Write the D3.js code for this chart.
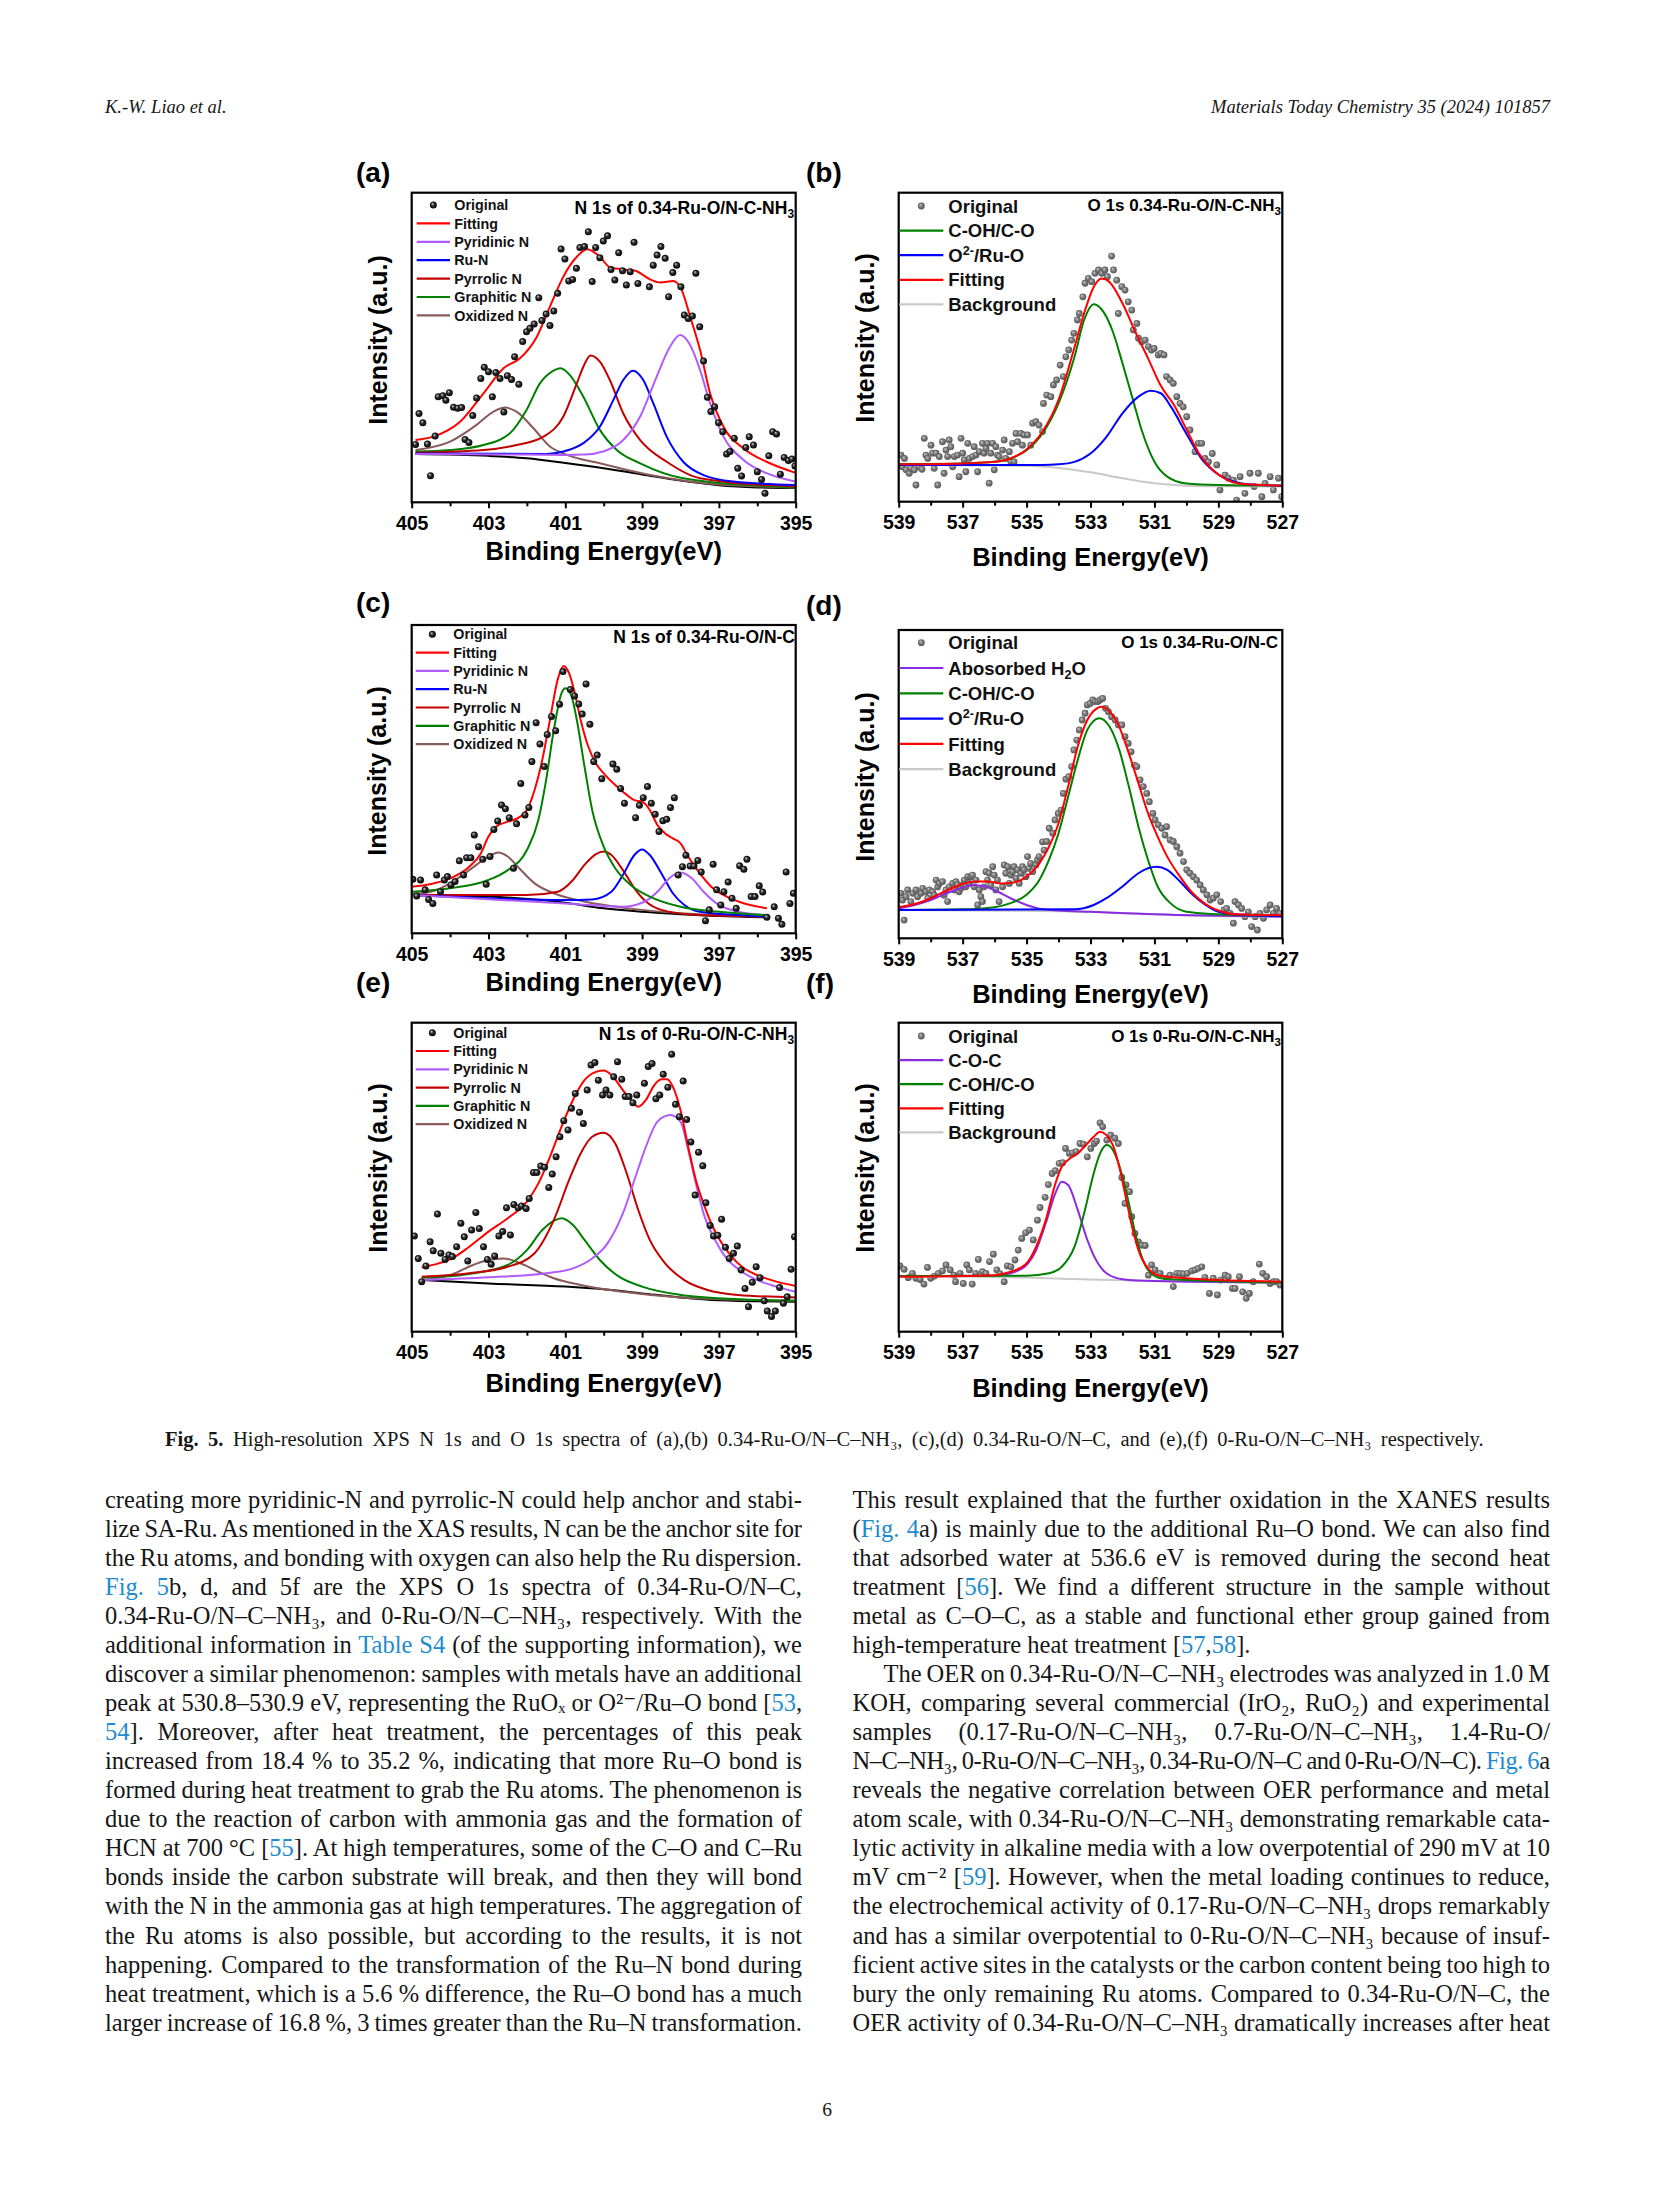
<!DOCTYPE html>
<html><head><meta charset="utf-8">
<script src="https://cdn.jsdelivr.net/npm/d3@7"></script>
<style>body{margin:0;background:#fff}svg{display:block}</style>
</head><body>
<svg id="page" width="1654" height="2205" xmlns="http://www.w3.org/2000/svg"></svg>
<script>
// ================= DATA (binding energy eV, intensity a.u. 0-100 of panel) =================
const nTicks = [405, 403, 401, 399, 397, 395];
const nMinor = [404, 402, 400, 398, 396];
const oTicks = [539, 537, 535, 533, 531, 529, 527];
const oMinor = [538, 536, 534, 532, 530, 528];

// (a) N 1s of 0.34-Ru-O/N-C-NH3
const aOriginal = [[404.90,18.7],[404.81,28.7],[404.71,25.7],[404.59,18.8],[404.51,8.6],[404.39,21.4],[404.31,34.1],[404.19,34.4],[404.11,33.0],[404.02,35.4],[403.91,30.7],[403.80,30.4],[403.70,30.6],[403.61,20.3],[403.51,19.3],[403.41,28.0],[403.31,33.7],[403.20,40.0],[403.11,43.6],[403.00,42.2],[402.90,34.1],[402.81,41.9],[402.70,40.0],[402.60,29.2],[402.51,40.9],[402.40,39.7],[402.32,47.0],[402.21,38.1],[402.11,51.9],[402.01,55.1],[401.92,56.2],[401.81,57.6],[401.69,66.1],[401.61,58.7],[401.50,60.8],[401.40,57.1],[401.30,61.8],[401.20,67.5],[401.11,81.8],[401.01,78.6],[400.91,71.5],[400.81,72.0],[400.71,75.6],[400.62,82.3],[400.50,82.6],[400.40,87.4],[400.30,71.3],[400.21,82.3],[400.10,79.0],[400.01,84.4],[399.90,86.1],[399.81,75.2],[399.71,71.8],[399.61,80.6],[399.51,74.8],[399.41,70.2],[399.31,74.5],[399.21,84.0],[399.11,70.7],[398.81,69.6],[398.71,76.6],[398.61,79.9],[398.51,82.6],[398.40,78.8],[398.31,66.4],[398.20,74.2],[398.10,76.6],[397.99,69.6],[397.90,60.5],[397.80,59.4],[397.69,60.2],[397.60,74.0],[397.50,56.7],[397.40,45.6],[397.30,33.9],[397.21,29.3],[397.11,30.9],[397.01,25.7],[396.90,22.8],[396.80,15.6],[396.71,16.4],[396.60,20.7],[396.51,11.0],[396.41,8.5],[396.30,17.7],[396.21,21.2],[396.10,18.5],[396.00,9.9],[395.89,7.4],[395.80,2.9],[395.70,15.0],[395.60,22.8],[395.50,22.1],[395.40,9.1],[395.30,14.5],[395.19,13.5],[395.10,14.0],[395.02,11.7]];
const aFitting = [[404.9,20.1],[404.44,21.2],[403.74,26.0],[403.13,35.2],[402.61,43.3],[402.18,46.5],[401.74,53.5],[401.40,63.2],[401.05,72.9],[400.70,79.3],[400.43,81.7],[400.10,79.3],[399.84,75.9],[399.49,75.2],[399.18,74.8],[398.79,72.0],[398.53,71.0],[398.19,71.5],[397.97,68.6],[397.75,60.0],[397.49,49.2],[397.23,35.2],[396.88,24.4],[396.36,17.4],[395.76,13.1],[395.02,9.6]];
const aPyridinic = [[404.9,15.6],[402.0,15.4],[401.0,15.3],[400.5,15.4],[400.01,16.4],[399.49,20.1],[399.05,27.7],[398.62,40.6],[398.27,50.3],[398.01,54.0],[397.75,50.8],[397.49,42.7],[397.23,32.0],[396.88,21.2],[396.36,13.7],[395.76,9.4],[395.02,6.7]];
const aRuN = [[404.9,15.8],[401.5,15.6],[401.05,16.4],[400.53,19.1],[400.10,24.4],[399.75,33.0],[399.49,39.5],[399.24,42.5],[398.97,39.5],[398.71,32.0],[398.36,21.2],[397.93,13.1],[397.40,8.8],[396.62,6.7],[395.02,5.6]];
const aPyrrolic = [[404.9,16.0],[403.13,16.9],[402.27,18.5],[401.57,21.2],[401.05,27.7],[400.70,38.4],[400.53,43.8],[400.34,47.4],[400.10,45.4],[399.84,39.5],[399.49,28.7],[399.05,20.1],[398.36,13.1],[397.49,7.8],[395.02,5.1]];
const aGraphitic = [[404.9,16.4],[404.0,16.9],[403.13,18.5],[402.44,22.3],[402.01,29.8],[401.66,38.4],[401.35,42.2],[401.12,43.3],[400.88,41.1],[400.53,34.1],[400.10,23.4],[399.66,16.9],[399.05,12.6],[397.93,7.8],[395.02,4.8]];
const aOxidized = [[404.9,16.9],[404.0,19.6],[403.31,25.0],[402.87,29.3],[402.57,30.6],[402.27,29.3],[401.83,23.9],[401.40,18.0],[400.96,15.3],[400.10,12.6],[398.79,8.8],[397.06,5.8],[395.02,4.8]];
const aBackground = [[404.9,15.6],[403.0,15.0],[402.0,14.2],[401.0,12.7],[400.0,11.0],[399.0,9.0],[398.0,7.0],[397.0,5.5],[396.0,4.8],[395.02,4.6]];

// (b) O 1s 0.34-Ru-O/N-C-NH3
const bOriginal = [[538.93,15.1],[538.88,11.3],[538.82,14.0],[538.77,10.3],[538.67,9.2],[538.62,10.8],[538.51,10.3],[538.46,5.4],[538.36,11.3],[538.27,10.5],[538.20,20.5],[538.15,15.1],[538.09,14.0],[537.99,18.3],[537.94,15.7],[537.89,10.8],[537.83,15.7],[537.78,5.4],[537.73,14.6],[537.63,19.4],[537.58,9.2],[537.52,16.7],[537.47,14.6],[537.42,20.0],[537.37,17.8],[537.31,11.3],[537.26,14.6],[537.16,15.1],[537.11,8.1],[537.05,20.5],[537.00,15.7],[536.95,13.5],[536.90,9.7],[536.84,18.9],[536.79,14.0],[536.69,14.6],[536.64,17.8],[536.58,15.1],[536.53,9.7],[536.48,16.2],[536.38,18.9],[536.33,15.7],[536.27,17.3],[536.22,18.9],[536.17,6.0],[536.12,15.7],[536.06,18.9],[536.01,10.3],[535.96,17.8],[535.91,15.1],[535.86,14.6],[535.75,16.7],[535.70,20.0],[535.65,14.0],[535.54,16.2],[535.49,12.9],[535.44,18.9],[535.39,12.9],[535.33,22.1],[535.28,19.4],[535.18,22.1],[535.13,18.3],[535.08,21.6],[534.97,21.6],[534.87,18.3],[534.81,25.4],[534.71,25.9],[534.61,24.8],[534.50,22.7],[534.47,31.8],[534.37,34.5],[534.24,34.0],[534.16,37.8],[534.06,39.4],[533.95,44.2],[533.85,40.5],[533.77,46.9],[533.68,49.1],[533.59,52.3],[533.52,54.5],[533.41,58.8],[533.35,60.9],[533.24,66.3],[533.17,70.7],[533.07,72.3],[532.96,71.2],[532.86,73.9],[532.75,75.0],[532.65,73.9],[532.55,75.0],[532.47,72.8],[532.34,79.5],[532.28,75.0],[532.18,71.7],[532.13,60.9],[532.02,69.6],[531.92,68.5],[531.82,64.7],[531.71,62.0],[531.66,55.6],[531.55,57.7],[531.50,52.9],[531.40,51.8],[531.29,52.3],[531.19,50.2],[531.09,49.1],[531.01,49.6],[530.88,47.5],[530.80,48.0],[530.70,47.5],[530.62,40.5],[530.51,39.4],[530.41,38.3],[530.30,34.0],[530.20,31.8],[530.10,30.7],[529.99,27.5],[529.89,23.2],[529.73,16.2],[529.63,18.9],[529.52,18.9],[529.42,14.0],[529.31,12.9],[529.19,15.6],[529.05,11.9],[528.95,3.8],[528.79,8.6],[528.69,7.6],[528.53,7.0],[528.43,0.5],[528.32,8.1],[528.17,2.7],[528.01,9.2],[527.88,4.9],[527.75,9.2],[527.64,1.6],[527.54,5.9],[527.38,8.1],[527.28,3.8],[527.12,7.6],[527.02,1.6]];
const bCOH = [[539,12.2],[537,12.4],[536,12.9],[535.5,14.0],[535,16.7],[534.5,22.1],[534,31.8],[533.5,46.9],[533.2,58.8],[532.89,63.9],[532.6,61.5],[532.3,55.0],[532,44.8],[531.7,34.0],[531.4,23.2],[531,12.9],[530.6,8.1],[530,5.9],[529,5.4],[527,5.2]];
const bRuO = [[539,11.9],[534.5,11.9],[534,12.1],[533.5,12.9],[533,15.6],[532.5,21.0],[532,28.6],[531.5,34.0],[531.12,35.9],[530.8,35.1],[530.5,31.0],[530,22.0],[529.5,13.5],[529,8.8],[528.5,6.5],[528,5.6],[527,5.2]];
const bFitting = [[539,12.1],[537,12.4],[536,12.9],[535.5,14.0],[535,16.9],[534.5,22.7],[534,33.0],[533.5,50.0],[533.2,61.0],[532.9,69.5],[532.65,72.2],[532.4,71.0],[532.0,64.2],[531.6,55.0],[531.2,46.4],[530.8,37.5],[530.4,31.5],[530.0,23.5],[529.6,15.5],[529.2,10.5],[528.8,7.5],[528.2,5.7],[527,5.2]];
const bBackground = [[539,11.9],[535,11.6],[534,10.9],[533,9.5],[532,7.6],[531,6.0],[530,5.2],[529,5.0],[527,4.9]];

// (c) N 1s of 0.34-Ru-O/N-C
const cOriginal = [[404.97,17.5],[404.87,12.1],[404.77,17.3],[404.65,14.1],[404.56,11.0],[404.45,9.7],[404.35,18.9],[404.25,13.5],[404.15,17.3],[404.07,18.4],[403.98,15.7],[403.87,16.8],[403.76,23.5],[403.65,18.9],[403.57,24.5],[403.46,24.5],[403.37,31.9],[403.26,28.1],[403.15,24.0],[403.06,15.9],[402.96,24.9],[402.86,33.7],[402.76,36.4],[402.66,41.6],[402.56,40.4],[402.46,37.5],[402.35,21.1],[402.27,35.5],[402.16,48.6],[402.05,38.4],[401.95,40.8],[401.87,55.7],[401.76,68.3],[401.66,61.4],[401.55,54.1],[401.47,64.5],[401.36,70.3],[401.25,65.7],[401.15,74.3],[401.06,84.9],[400.87,79.1],[400.76,77.0],[400.65,74.4],[400.56,71.1],[400.46,80.9],[400.36,67.8],[400.26,55.7],[400.17,57.8],[400.05,50.1],[399.76,54.9],[399.66,53.2],[399.56,47.0],[399.46,42.2],[399.17,37.5],[399.07,41.5],[398.97,44.0],[398.86,47.6],[398.76,42.2],[398.66,38.6],[398.56,33.0],[398.46,36.5],[398.36,37.0],[398.26,40.8],[398.16,44.0],[398.06,18.9],[397.95,21.6],[397.86,25.3],[397.75,21.8],[397.65,21.8],[397.55,23.6],[397.46,19.9],[397.35,4.1],[397.25,7.6],[397.15,22.4],[397.06,14.1],[396.95,9.2],[396.87,13.5],[396.76,16.6],[396.66,11.4],[396.55,8.1],[396.46,21.9],[396.35,20.8],[396.27,24.0],[396.16,11.9],[396.06,11.9],[395.95,15.4],[395.86,13.4],[395.75,5.2],[395.56,8.6],[395.45,4.9],[395.36,2.9],[395.25,19.9],[395.15,9.7],[395.06,13.0]];
const cFitting = [[405,15.1],[404.5,16.0],[404,17.8],[403.5,21.6],[403.2,25.9],[403,31.4],[402.8,34.6],[402.5,36.2],[402.2,37.6],[402.0,40.0],[401.8,46.5],[401.6,56.2],[401.4,69.2],[401.2,82.2],[401.05,86.7],[400.9,84.3],[400.75,77.8],[400.6,69.2],[400.4,60.5],[400.2,55.1],[400.0,51.9],[399.7,48.1],[399.4,44.9],[399.2,43.2],[399.0,42.7],[398.8,40.0],[398.6,35.1],[398.4,32.4],[398.2,30.8],[398.0,29.2],[397.8,24.9],[397.5,19.5],[397.2,15.1],[396.8,11.9],[396.4,9.9],[395.75,8.1]];
const cPyridinic = [[405,12.4],[401,9.7],[399.5,8.6],[399.0,9.9],[398.6,13.5],[398.3,17.8],[398.0,19.7],[397.7,17.8],[397.4,13.5],[397.0,9.2],[396.5,7.0],[395.75,5.9]];
const cRuN = [[405,12.4],[401,10.8],[400.3,11.0],[399.8,13.5],[399.5,18.9],[399.2,25.4],[399.0,27.2],[398.8,25.4],[398.5,19.5],[398.2,13.0],[397.9,9.2],[397.5,7.0],[396.5,5.9],[395.75,5.4]];
const cPyrrolic = [[405,12.4],[402,12.4],[401.2,13.5],[400.8,17.3],[400.5,22.2],[400.2,25.7],[400.0,26.5],[399.8,25.4],[399.5,20.5],[399.2,14.6],[398.9,10.3],[398.5,7.6],[397.5,5.9],[395.75,5.4]];
const cGraphitic = [[405,13.5],[404,14.6],[403,17.3],[402.5,20.5],[402,27.0],[401.7,36.8],[401.5,49.7],[401.3,65.9],[401.1,77.8],[401.0,79.5],[400.85,77.3],[400.7,69.2],[400.5,54.1],[400.3,40.0],[400.0,28.1],[399.7,21.1],[399.3,15.7],[398.8,11.9],[398.0,8.6],[397.0,7.0],[395.75,5.9]];
const cOxidized = [[405,12.8],[404.5,13.5],[404,16.2],[403.5,20.5],[403.0,24.9],[402.75,26.2],[402.5,24.9],[402.2,21.1],[401.8,16.2],[401.3,13.0],[400.5,10.3],[399,7.6],[397,5.9],[395.75,5.4]];
const cBackground = [[405,12.4],[403,11.9],[401,9.9],[400,8.1],[399,7.0],[398,6.2],[397,5.6],[395.75,5.2]];

// (d) O 1s 0.34-Ru-O/N-C
const dOriginal = [[538.93,14.6],[538.88,12.4],[538.83,5.9],[538.77,13.5],[538.72,15.7],[538.62,11.9],[538.56,14.6],[538.46,15.7],[538.41,13.5],[538.30,14.6],[538.25,16.2],[538.15,15.1],[538.09,13.0],[538.04,15.7],[537.94,15.1],[537.89,14.0],[537.83,18.9],[537.78,16.7],[537.73,17.8],[537.63,18.4],[537.58,14.0],[537.52,15.7],[537.47,11.9],[537.42,16.7],[537.31,17.8],[537.26,15.7],[537.21,18.4],[537.16,17.3],[537.11,15.1],[537.05,16.2],[537.00,17.3],[536.95,18.9],[536.90,16.7],[536.84,20.0],[536.79,17.8],[536.74,20.0],[536.69,20.5],[536.64,16.7],[536.58,18.9],[536.53,10.8],[536.48,15.7],[536.43,13.5],[536.38,11.9],[536.33,16.7],[536.27,21.6],[536.22,18.9],[536.17,21.1],[536.12,17.3],[536.06,23.2],[536.01,20.5],[535.96,15.7],[535.91,18.9],[535.86,11.9],[535.75,16.7],[535.70,23.8],[535.65,21.1],[535.59,23.2],[535.54,17.8],[535.49,20.5],[535.44,21.6],[535.39,23.2],[535.33,19.5],[535.28,22.2],[535.23,17.8],[535.18,21.1],[535.13,23.2],[535.08,22.2],[535.02,20.0],[534.97,26.5],[534.92,22.7],[534.87,24.3],[534.81,21.6],[534.71,23.8],[534.66,25.4],[534.61,26.5],[534.50,31.3],[534.45,28.6],[534.37,31.4],[534.29,35.7],[534.18,34.1],[534.11,38.4],[534.01,40.5],[533.92,41.6],[533.85,47.0],[533.77,51.6],[533.68,52.4],[533.59,55.7],[533.52,61.1],[533.43,64.3],[533.35,67.6],[533.26,70.8],[533.17,73.0],[533.10,75.7],[533.01,76.2],[532.93,77.3],[532.86,76.8],[532.77,76.8],[532.70,77.3],[532.62,77.8],[532.53,74.6],[532.44,73.5],[532.34,71.9],[532.23,70.8],[532.13,69.2],[532.02,69.2],[531.92,65.4],[531.82,63.2],[531.73,60.5],[531.63,56.2],[531.55,55.7],[531.45,51.4],[531.35,49.2],[531.24,47.0],[531.16,44.3],[531.05,40.5],[530.98,38.4],[530.88,36.8],[530.77,35.7],[530.67,33.5],[530.62,36.2],[530.51,31.9],[530.41,31.4],[530.30,29.7],[530.20,27.6],[530.09,24.9],[529.99,22.2],[529.89,21.1],[529.78,20.0],[529.68,18.9],[529.57,17.3],[529.47,15.7],[529.36,14.1],[529.26,12.4],[529.16,13.0],[529.05,14.1],[528.93,11.9],[528.82,9.2],[528.74,9.7],[528.63,8.1],[528.53,4.9],[528.48,11.9],[528.37,10.8],[528.27,9.7],[528.17,7.0],[528.06,8.6],[527.96,3.8],[527.85,7.0],[527.78,2.7],[527.70,8.1],[527.59,6.5],[527.49,9.2],[527.38,10.8],[527.28,8.1],[527.18,9.7],[527.07,8.1]];
const dH2O = [[539,9.7],[538.5,10.8],[538,12.4],[537.5,14.6],[537,16.5],[536.7,17.3],[536.3,16.8],[535.9,15.1],[535.5,13.0],[535,10.8],[534.5,9.4],[534,9.0],[533,8.6],[531,7.8],[527,7.0]];
const dCOH = [[539,9.2],[537,9.4],[536,10.1],[535.5,11.4],[535,14.1],[534.6,18.9],[534.3,25.4],[534,34.1],[533.7,45.9],[533.4,57.8],[533.1,67.6],[532.73,71.4],[532.4,68.6],[532.1,61.1],[531.8,49.2],[531.5,36.2],[531.2,25.4],[530.9,16.8],[530.5,11.4],[530,8.6],[529,7.8],[527,7.2]];
const dRuO = [[539,9.2],[533.5,9.4],[532.9,10.8],[532.5,13.0],[532,16.8],[531.5,21.1],[531.2,22.7],[530.93,23.2],[530.6,22.2],[530.2,18.4],[529.8,14.1],[529.4,10.8],[529,8.6],[528.5,7.8],[527,7.2]];
const dFitting = [[539,10.1],[538.5,11.1],[538,13.0],[537.5,15.5],[537,17.6],[536.6,18.4],[536.2,18.4],[535.8,17.8],[535.4,18.1],[535,20.0],[534.6,24.3],[534.3,29.7],[534,37.3],[533.7,49.2],[533.4,62.2],[533.1,70.8],[532.8,74.6],[532.65,75.1],[532.4,73.5],[532.1,68.6],[531.8,60.0],[531.5,50.3],[531.2,40.5],[530.9,33.0],[530.6,26.5],[530.2,20.0],[529.8,14.6],[529.4,11.1],[529,9.0],[528.5,7.8],[527,7.5]];
const dBackground = [[539,9.2],[533,8.6],[531,7.8],[529,7.2],[527,7.0]];

// (e) N 1s of 0-Ru-O/N-C-NH3
const eOriginal = [[404.93,31.0],[404.83,23.7],[404.74,16.2],[404.63,21.3],[404.52,29.1],[404.44,26.2],[404.33,38.1],[404.24,25.4],[404.13,23.4],[404.03,24.8],[403.94,24.3],[403.83,27.5],[403.72,35.1],[403.63,30.7],[403.54,22.9],[403.44,32.9],[403.33,38.6],[403.24,33.4],[403.13,27.5],[403.03,23.4],[402.93,21.8],[402.84,24.5],[402.73,31.0],[402.63,32.4],[402.53,40.1],[402.43,31.3],[402.34,41.2],[402.23,40.1],[402.14,40.7],[402.02,39.9],[401.94,43.1],[401.83,51.5],[401.74,51.5],[401.64,53.6],[401.54,53.2],[401.43,46.7],[401.34,51.0],[401.24,56.6],[401.14,63.1],[401.04,68.3],[400.93,65.3],[400.84,72.3],[400.74,77.1],[400.63,71.0],[400.53,67.4],[400.43,78.2],[400.33,86.3],[400.23,87.1],[400.14,81.4],[400.03,76.6],[399.94,78.2],[399.84,76.6],[399.74,82.5],[399.64,87.4],[399.53,81.7],[399.44,76.1],[399.34,76.1],[399.24,74.1],[399.14,76.6],[398.94,80.4],[398.84,85.8],[398.74,86.8],[398.64,75.4],[398.54,76.6],[398.45,83.3],[398.33,79.1],[398.23,89.8],[398.13,73.6],[398.03,69.6],[397.93,81.1],[397.84,68.7],[397.73,61.4],[397.62,44.2],[397.53,58.1],[397.42,53.7],[397.34,41.7],[397.23,34.4],[397.14,31.0],[397.03,31.2],[396.93,36.4],[396.83,27.3],[396.73,23.7],[396.62,25.4],[396.52,27.7],[396.42,20.0],[396.32,14.0],[396.23,8.1],[396.13,16.0],[396.03,21.0],[395.93,17.5],[395.82,10.0],[395.74,6.7],[395.63,4.9],[395.53,6.7],[395.42,14.3],[395.32,9.2],[395.22,11.3],[395.12,20.2],[395.03,30.7]];
const eFitting = [[404.74,20.8],[404.3,22.1],[404,23.4],[403.5,27.5],[403.0,32.4],[402.5,36.7],[402.0,42.1],[401.7,48.0],[401.4,56.6],[401.1,66.3],[400.8,75.0],[400.5,81.4],[400.2,84.1],[400.0,84.5],[399.8,83.1],[399.5,78.2],[399.2,73.7],[399.1,72.8],[398.9,75.0],[398.7,79.5],[398.5,81.7],[398.35,81.7],[398.2,79.3],[398.0,71.7],[397.8,59.9],[397.6,49.1],[397.4,41.5],[397.2,35.1],[397.0,30.2],[396.7,24.8],[396.4,21.0],[396.0,18.3],[395.5,16.2],[395.0,14.8]];
const ePyridinic = [[404.74,16.7],[403,17.6],[401.5,18.9],[400.8,20.5],[400.3,23.7],[399.9,28.6],[399.5,38.3],[399.2,49.1],[398.9,59.9],[398.6,68.0],[398.27,70.1],[398.0,68.0],[397.8,58.8],[397.6,48.0],[397.4,38.3],[397.1,29.7],[396.8,23.7],[396.4,19.4],[396.0,16.7],[395.5,14.6],[395.0,12.9]];
const ePyrrolic = [[404.74,17.8],[403.5,18.9],[402.5,21.0],[401.8,25.4],[401.3,36.1],[400.9,49.1],[400.6,57.7],[400.3,63.1],[400.0,64.4],[399.7,60.9],[399.4,51.2],[399.1,39.4],[398.8,29.7],[398.4,22.1],[397.9,16.7],[397.3,13.5],[396.5,11.9],[395.0,11.1]];
const eGraphitic = [[404.74,17.5],[403.5,18.7],[402.5,21.6],[402.0,26.4],[401.6,32.9],[401.3,35.9],[401.09,36.7],[400.8,34.5],[400.5,29.7],[400.1,23.2],[399.6,17.8],[399.0,14.6],[398.0,11.9],[397.0,10.8],[395.0,10.0]];
const eOxidized = [[404.74,16.7],[404,18.3],[403.4,21.6],[403.0,23.2],[402.61,23.7],[402.2,22.3],[401.8,20.0],[401.3,17.3],[400.6,15.1],[399.5,12.9],[398,11.1],[395,10.0]];
const eBackground = [[404.74,16.7],[403,15.6],[401,14.6],[400,13.7],[399,12.4],[398,11.1],[397,10.2],[395,9.7]];

// (f) O 1s 0-Ru-O/N-C-NH3
const fOriginal = [[538.96,21.3],[538.83,20.2],[538.70,17.5],[538.57,18.9],[538.46,17.3],[538.33,16.9],[538.21,15.4],[538.10,20.8],[538.00,17.3],[537.88,18.0],[537.76,18.9],[537.63,19.7],[537.52,21.6],[537.39,20.0],[537.27,18.3],[537.22,16.2],[537.08,18.9],[536.98,15.6],[536.87,21.6],[536.79,20.0],[536.70,15.4],[536.59,18.9],[536.51,23.4],[536.38,19.4],[536.27,18.9],[536.16,22.7],[536.04,25.1],[535.93,20.0],[535.83,18.7],[535.70,16.2],[535.60,21.3],[535.49,21.0],[535.36,23.2],[535.26,26.4],[535.15,30.2],[535.03,32.0],[534.91,32.9],[534.79,29.7],[534.66,36.1],[534.58,40.2],[534.42,43.5],[534.32,47.6],[534.20,51.2],[534.10,52.1],[533.98,54.5],[533.87,54.7],[533.78,59.3],[533.66,57.7],[533.56,57.9],[533.45,58.3],[533.33,60.9],[533.22,60.7],[533.10,56.6],[532.99,59.3],[532.88,60.9],[532.81,61.7],[532.70,67.6],[532.62,66.3],[532.49,62.0],[532.37,63.6],[532.24,62.6],[532.13,60.9],[532.02,49.9],[531.92,41.5],[531.89,47.5],[531.78,45.3],[531.71,37.2],[531.61,31.8],[531.50,29.1],[531.40,28.0],[531.29,27.9],[531.19,18.3],[531.09,21.6],[530.98,20.0],[530.82,18.9],[530.62,17.3],[530.51,18.3],[530.41,14.6],[530.30,18.9],[530.20,18.9],[530.09,18.7],[529.97,18.9],[529.83,19.7],[529.73,20.0],[529.63,20.5],[529.52,21.0],[529.42,17.6],[529.28,12.4],[529.16,17.3],[529.03,11.9],[528.93,16.7],[528.79,18.3],[528.69,17.8],[528.56,14.0],[528.48,14.0],[528.34,17.8],[528.24,12.9],[528.13,10.8],[528.03,12.4],[527.91,16.2],[527.72,21.9],[527.61,18.9],[527.49,17.8],[527.38,15.6],[527.28,16.2],[527.18,16.2],[527.07,15.1]];
const fCOC = [[539,18.0],[536,18.1],[535.5,18.9],[535.0,21.6],[534.7,26.4],[534.4,35.1],[534.1,44.8],[533.9,48.5],[533.7,47.5],[533.4,39.4],[533.1,29.7],[532.8,22.7],[532.5,18.9],[532.0,17.0],[531,16.4],[527,15.9]];
const fCOH = [[539,18.0],[535,18.1],[534.3,18.9],[533.9,21.0],[533.5,27.5],[533.2,38.3],[532.9,51.2],[532.7,57.7],[532.49,60.4],[532.3,58.8],[532.0,50.2],[531.8,41.5],[531.6,31.8],[531.4,24.3],[531.2,20.0],[530.8,17.3],[530,16.7],[527,15.9]];
const fFitting = [[539,17.8],[536,18.3],[535.5,19.4],[535.0,22.1],[534.7,27.5],[534.4,36.1],[534.1,47.9],[533.9,53.4],[533.7,55.6],[533.4,57.7],[533.1,60.9],[532.9,63.1],[532.7,64.7],[532.5,63.6],[532.3,60.4],[532.1,53.4],[531.9,43.7],[531.7,34.0],[531.5,26.4],[531.2,20.5],[530.8,18.0],[530,17.3],[529,16.7],[527,16.2]];
const fBackground = [[539,18.0],[535,17.5],[533,16.9],[531,16.4],[529,16.1],[527,15.9]];

// ================= TEXT CONTENT =================
const headerLeft = 'K.-W. Liao et al.';
const headerRight = 'Materials Today Chemistry 35 (2024) 101857';
const captionBold = 'Fig. 5.';
const captionText = '  High-resolution XPS N 1s and O 1s spectra of (a),(b) 0.34-Ru-O/N–C–NH_{3}, (c),(d) 0.34-Ru-O/N–C, and (e),(f) 0-Ru-O/N–C–NH_{3} respectively.';
const leftLines = [
 'creating more pyridinic-N and pyrrolic-N could help anchor and stabi-',
 'lize SA-Ru. As mentioned in the XAS results, N can be the anchor site for',
 'the Ru atoms, and bonding with oxygen can also help the Ru dispersion.',
 '{L:Fig. 5}b, d, and 5f are the XPS O 1s spectra of 0.34-Ru-O/N–C,',
 '0.34-Ru-O/N–C–NH_{3,} and 0-Ru-O/N–C–NH_{3,} respectively. With the',
 'additional information in {L:Table S4} (of the supporting information), we',
 'discover a similar phenomenon: samples with metals have an additional',
 'peak at 530.8–530.9 eV, representing the RuO_{x} or O^{2−}/Ru–O bond [{L:53},',
 '{L:54}]. Moreover, after heat treatment, the percentages of this peak',
 'increased from 18.4 % to 35.2 %, indicating that more Ru–O bond is',
 'formed during heat treatment to grab the Ru atoms. The phenomenon is',
 'due to the reaction of carbon with ammonia gas and the formation of',
 'HCN at 700 °C [{L:55}]. At high temperatures, some of the C–O and C–Ru',
 'bonds inside the carbon substrate will break, and then they will bond',
 'with the N in the ammonia gas at high temperatures. The aggregation of',
 'the Ru atoms is also possible, but according to the results, it is not',
 'happening. Compared to the transformation of the Ru–N bond during',
 'heat treatment, which is a 5.6 % difference, the Ru–O bond has a much',
 'larger increase of 16.8 %, 3 times greater than the Ru–N transformation.'
];
const rightLines = [
 'This result explained that the further oxidation in the XANES results',
 '({L:Fig. 4}a) is mainly due to the additional Ru–O bond. We can also find',
 'that adsorbed water at 536.6 eV is removed during the second heat',
 'treatment [{L:56}]. We find a different structure in the sample without',
 'metal as C–O–C, as a stable and functional ether group gained from',
 'high-temperature heat treatment [{L:57},{L:58}].',
 'The OER on 0.34-Ru-O/N–C–NH_{3} electrodes was analyzed in 1.0 M',
 'KOH, comparing several commercial (IrO_{2}, RuO_{2}) and experimental',
 'samples (0.17-Ru-O/N–C–NH_{3}, 0.7-Ru-O/N–C–NH_{3}, 1.4-Ru-O/',
 'N–C–NH_{3}, 0-Ru-O/N–C–NH_{3}, 0.34-Ru-O/N–C and 0-Ru-O/N–C). {L:Fig. 6}a',
 'reveals the negative correlation between OER performance and metal',
 'atom scale, with 0.34-Ru-O/N–C–NH_{3} demonstrating remarkable cata-',
 'lytic activity in alkaline media with a low overpotential of 290 mV at 10',
 'mV cm^{−2} [{L:59}]. However, when the metal loading continues to reduce,',
 'the electrochemical activity of 0.17-Ru-O/N–C–NH_{3} drops remarkably',
 'and has a similar overpotential to 0-Ru-O/N–C–NH_{3} because of insuf-',
 'ficient active sites in the catalysts or the carbon content being too high to',
 'bury the only remaining Ru atoms. Compared to 0.34-Ru-O/N–C, the',
 'OER activity of 0.34-Ru-O/N–C–NH_{3} dramatically increases after heat'
];
const rightRagged = [5];   // last line of paragraph
const rightIndent = [6];   // paragraph start

// ================= RENDER =================
const SANS = '"Liberation Sans", Arial, Helvetica, sans-serif';
const SERIF = '"Liberation Serif", "DejaVu Serif", "Times New Roman", serif';
const LINK = '#1e8bd0';
const COL = {fit:'#ff0000', pyridinic:'#b15cff', ruN:'#0000ff', pyrrolic:'#c30000', graphitic:'#008000', oxidized:'#8a5a5a', bgN:'#000000', bgO:'#c9c9c9', violet:'#8a2be2'};

const svg = d3.select('#page');
const defs = svg.append('defs');
function sphere(id, c0, c1, c2) {
  const g = defs.append('radialGradient').attr('id', id).attr('cx', '50%').attr('cy', '50%').attr('r', '55%').attr('fx', '35%').attr('fy', '32%');
  g.append('stop').attr('offset', '0%').attr('stop-color', c0);
  g.append('stop').attr('offset', '45%').attr('stop-color', c1);
  g.append('stop').attr('offset', '100%').attr('stop-color', c2);
}
sphere('dotBlack', '#d0d0d0', '#2a2a2a', '#000');
sphere('dotGray', '#c8c8c8', '#7e7e7e', '#4e4e4e');

// unicode sub/superscripts for running text (keeps each line a single baseline)
const SUBMAP = {'0':'₀','1':'₁','2':'₂','3':'₃','4':'₄','5':'₅','6':'₆','7':'₇','8':'₈','9':'₉','x':'ₓ',',':','};
const SUPMAP = {'0':'⁰','1':'¹','2':'²','3':'³','−':'⁻','-':'⁻'};
function uni(s) {
  return s.replace(/_\{([^}]*)\}/g, (m, a) => [...a].map(c => SUBMAP[c] || c).join(''))
          .replace(/\^\{([^}]*)\}/g, (m, a) => [...a].map(c => SUPMAP[c] || c).join(''));
}

function rich(sel, str, fs, subDy, supDy, scale) {
  const k = scale || 0.68;
  const parts = str.split(/(\{L:[^}]*\}|_\{[^}]*\}|\^\{[^}]*\})/).filter(s => s.length);
  let shift = 0, plain = '';
  parts.forEach(p => {
    let kind = 'n', txt = p;
    if (p.startsWith('{L:')) { kind = 'l'; txt = p.slice(3, -1); }
    else if (p.startsWith('_{')) { kind = 'sub'; txt = p.slice(2, -1); }
    else if (p.startsWith('^{')) { kind = 'sup'; txt = p.slice(2, -1); }
    const target = kind === 'sub' ? subDy : kind === 'sup' ? -supDy : 0;
    const ts = sel.append('tspan').text(txt);
    if (target !== shift) { ts.attr('dy', target - shift); shift = target; }
    if (kind === 'sub' || kind === 'sup') ts.attr('font-size', fs * k);
    if (kind === 'l') ts.attr('fill', LINK);
    plain += txt;
  });
  return plain;
}

// ---------- panels ----------
const panels = [
 {box:[411.7,192.7,795.7,502.3], dom:[405,395], ticks:nTicks, minor:nMinor, pts:aOriginal, dot:'dotBlack', r:3.5, dotsTop:true,
  curves:[[aBackground,COL.bgN],[aOxidized,COL.oxidized],[aGraphitic,COL.graphitic],[aPyrrolic,COL.pyrrolic],[aRuN,COL.ruN],[aPyridinic,COL.pyridinic],[aFitting,COL.fit]],
  leg:{x0:416.7,x1:450,tx:454.3,y:205,dy:18.4,fs:14.3,items:[['Original',null],['Fitting',COL.fit],['Pyridinic N',COL.pyridinic],['Ru-N',COL.ruN],['Pyrrolic N',COL.pyrrolic],['Graphitic N',COL.graphitic],['Oxidized N',COL.oxidized]]},
  title:{t:'N 1s of 0.34-Ru-O/N-C-NH_{3}',x:794,y:214.3,fs:17.5}, label:{t:'(a)',x:356,y:182}, xt:560, yt:[378,340]},
 {box:[898.7,192.7,1282.3,501.7], dom:[539,527], ticks:oTicks, minor:oMinor, pts:bOriginal, dot:'dotGray', r:3.4, dotsTop:false,
  curves:[[bBackground,COL.bgO],[bCOH,COL.graphitic],[bRuO,COL.ruN],[bFitting,COL.fit]],
  leg:{x0:899.3,x1:943.3,tx:948.3,y:206,dy:24.6,fs:18.5,items:[['Original',null],['C-OH/C-O',COL.graphitic],['O^{2-}/Ru-O',COL.ruN],['Fitting',COL.fit],['Background',COL.bgO]]},
  title:{t:'O 1s 0.34-Ru-O/N-C-NH_{3}',x:1281,y:211.1,fs:17}, label:{t:'(b)',x:806,y:182}, xt:565.5, yt:[865,338]},
 {box:[411.7,625,795.7,933.3], dom:[405,395], ticks:nTicks, minor:nMinor, pts:cOriginal, dot:'dotBlack', r:3.5, dotsTop:true,
  curves:[[cBackground,COL.bgN],[cOxidized,COL.oxidized],[cPyrrolic,COL.pyrrolic],[cRuN,COL.ruN],[cPyridinic,COL.pyridinic],[cGraphitic,COL.graphitic],[cFitting,COL.fit]],
  leg:{x0:415.7,x1:449,tx:453.3,y:634.3,dy:18.3,fs:14.3,items:[['Original',null],['Fitting',COL.fit],['Pyridinic N',COL.pyridinic],['Ru-N',COL.ruN],['Pyrrolic N',COL.pyrrolic],['Graphitic N',COL.graphitic],['Oxidized N',COL.oxidized]]},
  title:{t:'N 1s of 0.34-Ru-O/N-C',x:795,y:643.3,fs:17.5}, label:{t:'(c)',x:356,y:612}, xt:990.5, yt:[377,771]},
 {box:[898.7,630,1282.3,938.3], dom:[539,527], ticks:oTicks, minor:oMinor, pts:dOriginal, dot:'dotGray', r:3.4, dotsTop:false,
  curves:[[dBackground,COL.bgO],[dH2O,COL.violet],[dCOH,COL.graphitic],[dRuO,COL.ruN],[dFitting,COL.fit]],
  leg:{x0:899.3,x1:943.3,tx:948.3,y:642.7,dy:25.3,fs:18.5,items:[['Original',null],['Abosorbed H_{2}O',COL.violet],['C-OH/C-O',COL.graphitic],['O^{2-}/Ru-O',COL.ruN],['Fitting',COL.fit],['Background',COL.bgO]]},
  title:{t:'O 1s 0.34-Ru-O/N-C',x:1278,y:648.1,fs:17}, label:{t:'(d)',x:806,y:615}, xt:1002.5, yt:[865,777]},
 {box:[411.7,1022.7,795.7,1331.7], dom:[405,395], ticks:nTicks, minor:nMinor, pts:eOriginal, dot:'dotBlack', r:3.5, dotsTop:true,
  curves:[[eBackground,COL.bgN],[eOxidized,COL.oxidized],[eGraphitic,COL.graphitic],[ePyrrolic,COL.pyrrolic],[ePyridinic,COL.pyridinic],[eFitting,COL.fit]],
  leg:{x0:415.7,x1:449,tx:453.3,y:1032.7,dy:18.3,fs:14.3,items:[['Original',null],['Fitting',COL.fit],['Pyridinic N',COL.pyridinic],['Pyrrolic N',COL.pyrrolic],['Graphitic N',COL.graphitic],['Oxidized N',COL.oxidized]]},
  title:{t:'N 1s of 0-Ru-O/N-C-NH_{3}',x:794,y:1040.3,fs:17.5}, label:{t:'(e)',x:356,y:992}, xt:1391.5, yt:[378,1168]},
 {box:[898.7,1022.7,1282.3,1331.7], dom:[539,527], ticks:oTicks, minor:oMinor, pts:fOriginal, dot:'dotGray', r:3.4, dotsTop:false,
  curves:[[fBackground,COL.bgO],[fCOC,COL.violet],[fCOH,COL.graphitic],[fFitting,COL.fit]],
  leg:{x0:899.3,x1:943.3,tx:948.3,y:1036,dy:24.1,fs:18.5,items:[['Original',null],['C-O-C',COL.violet],['C-OH/C-O',COL.graphitic],['Fitting',COL.fit],['Background',COL.bgO]]},
  title:{t:'O 1s 0-Ru-O/N-C-NH_{3}',x:1281,y:1042.1,fs:17}, label:{t:'(f)',x:806,y:993}, xt:1397, yt:[865,1168]}
];

panels.forEach((p, i) => {
  const [X0, Y0, X1, Y1] = p.box;
  const g = svg.append('g');
  const x = d3.scaleLinear().domain(p.dom).range([X0, X1]);
  const y = d3.scaleLinear().domain([0, 100]).range([Y1, Y0]);
  const clipId = 'clip' + i;
  defs.append('clipPath').attr('id', clipId).append('rect').attr('x', X0).attr('y', Y0).attr('width', X1 - X0).attr('height', Y1 - Y0);
  const plot = g.append('g').attr('clip-path', `url(#${clipId})`);
  const line = d3.line().x(d => x(d[0])).y(d => y(d[1])).curve(d3.curveMonotoneX);
  const drawDots = () => plot.append('g').selectAll('circle').data(p.pts).join('circle')
      .attr('cx', d => x(d[0])).attr('cy', d => y(d[1])).attr('r', p.r).attr('fill', `url(#${p.dot})`);
  const drawCurves = () => p.curves.forEach(([data, color]) => plot.append('path').datum(data)
      .attr('d', line).attr('fill', 'none').attr('stroke', color).attr('stroke-width', 2).attr('stroke-linejoin', 'round'));
  if (p.dotsTop) { drawCurves(); drawDots(); } else { drawDots(); drawCurves(); }

  g.append('rect').attr('x', X0).attr('y', Y0).attr('width', X1 - X0).attr('height', Y1 - Y0)
    .attr('fill', 'none').attr('stroke', '#000').attr('stroke-width', 2.2);

  const ax = g.append('g').attr('transform', `translate(0,${Y1})`)
    .call(d3.axisBottom(x).tickValues(p.ticks).tickSize(6).tickPadding(7.4).tickFormat(d3.format('d')));
  const axm = g.append('g').attr('transform', `translate(0,${Y1})`)
    .call(d3.axisBottom(x).tickValues(p.minor).tickSize(4).tickFormat(''));
  [ax, axm].forEach(a => { a.select('.domain').remove(); a.selectAll('line').attr('stroke', '#000').attr('stroke-width', 2); });
  ax.selectAll('text').attr('font-family', SANS).attr('font-weight', 'bold').attr('font-size', 19.5).attr('fill', '#000');

  g.append('text').attr('x', (X0 + X1) / 2).attr('y', p.xt).attr('text-anchor', 'middle')
    .attr('font-family', SANS).attr('font-weight', 'bold').attr('font-size', 25.5).text('Binding Energy(eV)');
  g.append('text').attr('transform', `translate(${p.yt[0]},${p.yt[1]}) rotate(-90)`).attr('text-anchor', 'middle')
    .attr('dominant-baseline', 'central').attr('font-family', SANS).attr('font-weight', 'bold').attr('font-size', 25).text('Intensity (a.u.)');

  g.append('text').attr('x', p.label.x).attr('y', p.label.y).attr('font-family', SANS).attr('font-weight', 'bold')
    .attr('font-size', 28).text(p.label.t);

  const tt = g.append('text').attr('x', p.title.x).attr('y', p.title.y).attr('text-anchor', 'end')
    .attr('font-family', SANS).attr('font-weight', 'bold').attr('font-size', p.title.fs);
  rich(tt, p.title.t, p.title.fs, 4, 6);

  const L = p.leg;
  L.items.forEach(([name, color], k) => {
    const cy = L.y + k * L.dy;
    if (color === null) {
      g.append('circle').attr('cx', (L.x0 + L.x1) / 2).attr('cy', cy).attr('r', p.r).attr('fill', `url(#${p.dot})`);
    } else {
      g.append('line').attr('x1', L.x0).attr('x2', L.x1).attr('y1', cy).attr('y2', cy)
        .attr('stroke', color).attr('stroke-width', 2.2);
    }
    const t = g.append('text').attr('x', L.tx).attr('y', cy + 0.358 * L.fs)
      .attr('font-family', SANS).attr('font-weight', 'bold').attr('font-size', L.fs).attr('fill', '#111');
    rich(t, name, L.fs, 4, 7);
  });
});

// ---------- page text ----------
const txt = svg.append('g').attr('font-family', SERIF).attr('fill', '#161616').style('white-space', 'pre');
txt.append('text').attr('x', 105).attr('y', 113).attr('font-style', 'italic').attr('font-size', 18.5).text(headerLeft);
txt.append('text').attr('x', 1550).attr('y', 113).attr('text-anchor', 'end').attr('font-style', 'italic').attr('font-size', 18.5).text(headerRight);

// justify a line: adjust word gaps (slightly negative allowed), then tighten letters if still too long
function fitLine(t, plain, target) {
  const nat = t.node().getComputedTextLength();
  const spaces = (plain.match(/ /g) || []).length;
  let ws = spaces ? (target - nat) / spaces : 0;
  if (ws < -1.2) {
    ws = -1.2;
    const rest = target - nat - spaces * ws;
    t.attr('letter-spacing', rest / Math.max(1, plain.length - 1));
  }
  if (spaces) t.attr('word-spacing', ws);
}

// caption
const CAP_FS = 20.5;
const cap = txt.append('text').attr('x', 165).attr('y', 1445.5).attr('font-size', CAP_FS);
cap.append('tspan').attr('font-weight', 'bold').text(captionBold);
const capPlain = captionBold + rich(cap, uni(captionText), CAP_FS, 0, 0);
fitLine(cap, capPlain, 1488 - 165);

const BODY_FS = 24.5;
const LINE_H = 29.07;
const BASE0 = 1507.5;
function column(lines, colX, colW, ragged, indent) {
  lines.forEach((s, k) => {
    const ind = indent.includes(k) ? 31 : 0;
    const t = txt.append('text').attr('x', colX + ind).attr('y', BASE0 + k * LINE_H).attr('font-size', BODY_FS);
    const plain = rich(t, uni(s), BODY_FS, 0, 0);
    if (!ragged.includes(k)) fitLine(t, plain, colW - ind);
  });
}
column(leftLines, 105, 697, [], []);
column(rightLines, 852.5, 697.5, rightRagged, rightIndent);

txt.append('text').attr('x', 827).attr('y', 2116).attr('text-anchor', 'middle').attr('font-size', 19.5).text('6');
</script>
</body></html>
